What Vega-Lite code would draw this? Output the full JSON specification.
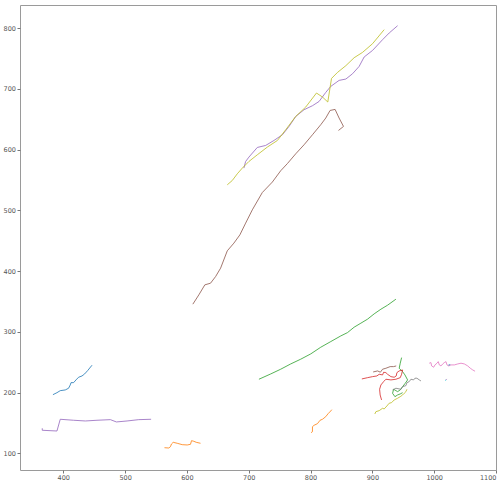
{
  "$schema": "https://vega.github.io/schema/vega-lite/v6.json",
  "width": 476,
  "height": 465,
  "autosize": {"type": "none"},
  "padding": {"left": 20, "top": 5, "right": 6, "bottom": 29},
  "background": "white",
  "config": {
    "view": {"stroke": "#9a9a9a", "strokeWidth": 1},
    "axis": {"grid": false, "domain": false, "tickSize": 3, "tickColor": "#777", "labelColor": "#555", "labelFontSize": 6.5, "labelFont": "DejaVu Sans", "labelPadding": 1.5, "title": null, "format": "d"}
  },
  "datasets": {
    "tr": [
      {"id": 1, "c": "C0", "i": 0, "x": 383.3, "y": 196.5},
      {"id": 1, "c": "C0", "i": 1, "x": 389.8, "y": 199.8},
      {"id": 1, "c": "C0", "i": 2, "x": 395.1, "y": 203.1},
      {"id": 1, "c": "C0", "i": 3, "x": 403.2, "y": 204.3},
      {"id": 1, "c": "C0", "i": 4, "x": 408.6, "y": 207.1},
      {"id": 1, "c": "C0", "i": 5, "x": 411.3, "y": 212.5},
      {"id": 1, "c": "C0", "i": 6, "x": 412.5, "y": 216.3},
      {"id": 1, "c": "C0", "i": 7, "x": 416.7, "y": 216.3},
      {"id": 1, "c": "C0", "i": 8, "x": 420.6, "y": 220.8},
      {"id": 1, "c": "C0", "i": 9, "x": 424.8, "y": 225.2},
      {"id": 1, "c": "C0", "i": 10, "x": 430.3, "y": 227.3},
      {"id": 1, "c": "C0", "i": 11, "x": 434.5, "y": 230.6},
      {"id": 1, "c": "C0", "i": 12, "x": 439.4, "y": 236.1},
      {"id": 1, "c": "C0", "i": 13, "x": 446.5, "y": 245.0},

      {"id": 2, "c": "C1", "i": 0, "x": 563.7, "y": 109.2},
      {"id": 2, "c": "C1", "i": 1, "x": 570.7, "y": 108.7},
      {"id": 2, "c": "C1", "i": 2, "x": 573.4, "y": 110.9},
      {"id": 2, "c": "C1", "i": 3, "x": 575.0, "y": 115.3},
      {"id": 2, "c": "C1", "i": 4, "x": 577.8, "y": 118.1},
      {"id": 2, "c": "C1", "i": 5, "x": 584.3, "y": 116.5},
      {"id": 2, "c": "C1", "i": 6, "x": 592.4, "y": 114.2},
      {"id": 2, "c": "C1", "i": 7, "x": 600.5, "y": 113.7},
      {"id": 2, "c": "C1", "i": 8, "x": 605.8, "y": 114.8},
      {"id": 2, "c": "C1", "i": 9, "x": 607.5, "y": 120.8},
      {"id": 2, "c": "C1", "i": 10, "x": 611.2, "y": 119.8},
      {"id": 2, "c": "C1", "i": 11, "x": 615.1, "y": 118.1},
      {"id": 2, "c": "C1", "i": 12, "x": 622.0, "y": 116.5},

      {"id": 3, "c": "C1", "i": 0, "x": 800.8, "y": 133.9},
      {"id": 3, "c": "C1", "i": 1, "x": 803.1, "y": 135.6},
      {"id": 3, "c": "C1", "i": 2, "x": 803.1, "y": 143.8},
      {"id": 3, "c": "C1", "i": 3, "x": 805.7, "y": 146.1},
      {"id": 3, "c": "C1", "i": 4, "x": 811.2, "y": 148.8},
      {"id": 3, "c": "C1", "i": 5, "x": 815.4, "y": 154.4},
      {"id": 3, "c": "C1", "i": 6, "x": 819.3, "y": 156.0},
      {"id": 3, "c": "C1", "i": 7, "x": 824.6, "y": 160.3},
      {"id": 3, "c": "C1", "i": 8, "x": 828.4, "y": 165.2},
      {"id": 3, "c": "C1", "i": 9, "x": 832.7, "y": 169.7},
      {"id": 3, "c": "C1", "i": 10, "x": 834.4, "y": 171.8},

      {"id": 4, "c": "C2", "i": 0, "x": 716.5, "y": 221.9},
      {"id": 4, "c": "C2", "i": 1, "x": 735.5, "y": 230.6},
      {"id": 4, "c": "C2", "i": 2, "x": 751.7, "y": 238.4},
      {"id": 4, "c": "C2", "i": 3, "x": 767.9, "y": 247.1},
      {"id": 4, "c": "C2", "i": 4, "x": 784.1, "y": 254.9},
      {"id": 4, "c": "C2", "i": 5, "x": 800.3, "y": 263.6},
      {"id": 4, "c": "C2", "i": 6, "x": 816.5, "y": 274.6},
      {"id": 4, "c": "C2", "i": 7, "x": 832.7, "y": 283.9},
      {"id": 4, "c": "C2", "i": 8, "x": 848.9, "y": 293.2},
      {"id": 4, "c": "C2", "i": 9, "x": 859.8, "y": 298.7},
      {"id": 4, "c": "C2", "i": 10, "x": 870.5, "y": 307.6},
      {"id": 4, "c": "C2", "i": 11, "x": 881.4, "y": 314.2},
      {"id": 4, "c": "C2", "i": 12, "x": 892.2, "y": 320.8},
      {"id": 4, "c": "C2", "i": 13, "x": 902.9, "y": 329.5},
      {"id": 4, "c": "C2", "i": 14, "x": 913.8, "y": 337.2},
      {"id": 4, "c": "C2", "i": 15, "x": 924.6, "y": 343.8},
      {"id": 4, "c": "C2", "i": 16, "x": 938.1, "y": 353.7},

      {"id": 5, "c": "C2", "i": 0, "x": 947.3, "y": 257.5},
      {"id": 5, "c": "C2", "i": 1, "x": 945.1, "y": 248.3},
      {"id": 5, "c": "C2", "i": 2, "x": 943.4, "y": 240.0},
      {"id": 5, "c": "C2", "i": 3, "x": 946.2, "y": 237.2},
      {"id": 5, "c": "C2", "i": 4, "x": 948.9, "y": 234.4},
      {"id": 5, "c": "C2", "i": 5, "x": 952.7, "y": 229.0},
      {"id": 5, "c": "C2", "i": 6, "x": 957.0, "y": 220.8},
      {"id": 5, "c": "C2", "i": 7, "x": 953.2, "y": 215.3},
      {"id": 5, "c": "C2", "i": 8, "x": 948.9, "y": 209.7},
      {"id": 5, "c": "C2", "i": 9, "x": 945.1, "y": 204.3},
      {"id": 5, "c": "C2", "i": 10, "x": 940.8, "y": 201.5},
      {"id": 5, "c": "C2", "i": 11, "x": 934.4, "y": 205.4},
      {"id": 5, "c": "C2", "i": 12, "x": 932.7, "y": 198.8},
      {"id": 5, "c": "C2", "i": 13, "x": 936.5, "y": 193.2},
      {"id": 5, "c": "C2", "i": 14, "x": 940.8, "y": 196.0},
      {"id": 5, "c": "C2", "i": 15, "x": 945.1, "y": 197.7},
      {"id": 5, "c": "C2", "i": 16, "x": 948.9, "y": 199.8},

      {"id": 6, "c": "C3", "i": 0, "x": 883.0, "y": 222.4},
      {"id": 6, "c": "C3", "i": 1, "x": 892.2, "y": 224.5},
      {"id": 6, "c": "C3", "i": 2, "x": 900.3, "y": 226.2},
      {"id": 6, "c": "C3", "i": 3, "x": 907.3, "y": 227.3},
      {"id": 6, "c": "C3", "i": 4, "x": 911.0, "y": 230.1},
      {"id": 6, "c": "C3", "i": 5, "x": 916.5, "y": 229.0},
      {"id": 6, "c": "C3", "i": 6, "x": 918.2, "y": 233.4},
      {"id": 6, "c": "C3", "i": 7, "x": 921.9, "y": 232.8},
      {"id": 6, "c": "C3", "i": 8, "x": 924.6, "y": 230.1},
      {"id": 6, "c": "C3", "i": 9, "x": 930.0, "y": 226.2},
      {"id": 6, "c": "C3", "i": 10, "x": 935.3, "y": 225.2},
      {"id": 6, "c": "C3", "i": 11, "x": 938.6, "y": 227.3},
      {"id": 6, "c": "C3", "i": 12, "x": 939.7, "y": 232.8},
      {"id": 6, "c": "C3", "i": 13, "x": 943.4, "y": 235.6},
      {"id": 6, "c": "C3", "i": 14, "x": 948.9, "y": 237.2},
      {"id": 6, "c": "C3", "i": 15, "x": 947.3, "y": 230.1},
      {"id": 6, "c": "C3", "i": 16, "x": 945.1, "y": 224.5},
      {"id": 6, "c": "C3", "i": 17, "x": 938.1, "y": 221.9},
      {"id": 6, "c": "C3", "i": 18, "x": 930.0, "y": 220.8},
      {"id": 6, "c": "C3", "i": 19, "x": 921.9, "y": 221.9},
      {"id": 6, "c": "C3", "i": 20, "x": 918.2, "y": 218.0},
      {"id": 6, "c": "C3", "i": 21, "x": 913.8, "y": 212.5},
      {"id": 6, "c": "C3", "i": 22, "x": 911.7, "y": 205.4},
      {"id": 6, "c": "C3", "i": 23, "x": 912.6, "y": 196.0},
      {"id": 6, "c": "C3", "i": 24, "x": 914.9, "y": 187.8},

      {"id": 7, "c": "C4", "i": 0, "x": 366.0, "y": 141.2},
      {"id": 7, "c": "C4", "i": 1, "x": 366.0, "y": 137.9},
      {"id": 7, "c": "C4", "i": 2, "x": 389.8, "y": 136.7},
      {"id": 7, "c": "C4", "i": 3, "x": 395.1, "y": 156.0},
      {"id": 7, "c": "C4", "i": 4, "x": 416.7, "y": 154.4},
      {"id": 7, "c": "C4", "i": 5, "x": 435.7, "y": 153.2},
      {"id": 7, "c": "C4", "i": 6, "x": 454.6, "y": 154.4},
      {"id": 7, "c": "C4", "i": 7, "x": 476.2, "y": 155.4},
      {"id": 7, "c": "C4", "i": 8, "x": 485.9, "y": 151.6},
      {"id": 7, "c": "C4", "i": 9, "x": 503.2, "y": 153.2},
      {"id": 7, "c": "C4", "i": 10, "x": 522.0, "y": 155.4},
      {"id": 7, "c": "C4", "i": 11, "x": 542.1, "y": 156.0},

      {"id": 8, "c": "C4", "i": 0, "x": 692.2, "y": 569.5},
      {"id": 8, "c": "C4", "i": 1, "x": 695.0, "y": 580.4},
      {"id": 8, "c": "C4", "i": 2, "x": 700.3, "y": 587.6},
      {"id": 8, "c": "C4", "i": 3, "x": 713.9, "y": 603.5},
      {"id": 8, "c": "C4", "i": 4, "x": 727.4, "y": 606.8},
      {"id": 8, "c": "C4", "i": 5, "x": 740.8, "y": 615.0},
      {"id": 8, "c": "C4", "i": 6, "x": 754.5, "y": 624.4},
      {"id": 8, "c": "C4", "i": 7, "x": 765.2, "y": 638.1},
      {"id": 8, "c": "C4", "i": 8, "x": 776.0, "y": 654.5},
      {"id": 8, "c": "C4", "i": 9, "x": 789.5, "y": 665.6},
      {"id": 8, "c": "C4", "i": 10, "x": 803.1, "y": 672.2},
      {"id": 8, "c": "C4", "i": 11, "x": 813.8, "y": 679.2},
      {"id": 8, "c": "C4", "i": 12, "x": 824.6, "y": 694.1},
      {"id": 8, "c": "C4", "i": 13, "x": 832.7, "y": 704.0},
      {"id": 8, "c": "C4", "i": 14, "x": 846.2, "y": 713.9},
      {"id": 8, "c": "C4", "i": 15, "x": 857.1, "y": 716.1},
      {"id": 8, "c": "C4", "i": 16, "x": 867.9, "y": 724.8},
      {"id": 8, "c": "C4", "i": 17, "x": 878.6, "y": 736.9},
      {"id": 8, "c": "C4", "i": 18, "x": 886.7, "y": 752.4},
      {"id": 8, "c": "C4", "i": 19, "x": 900.3, "y": 763.2},
      {"id": 8, "c": "C4", "i": 20, "x": 916.5, "y": 780.9},
      {"id": 8, "c": "C4", "i": 21, "x": 927.2, "y": 791.9},
      {"id": 8, "c": "C4", "i": 22, "x": 940.8, "y": 803.9},

      {"id": 9, "c": "C5", "i": 0, "x": 609.6, "y": 345.5},
      {"id": 9, "c": "C5", "i": 1, "x": 619.3, "y": 360.8},
      {"id": 9, "c": "C5", "i": 2, "x": 629.0, "y": 377.3},
      {"id": 9, "c": "C5", "i": 3, "x": 638.2, "y": 380.0},
      {"id": 9, "c": "C5", "i": 4, "x": 646.4, "y": 390.9},
      {"id": 9, "c": "C5", "i": 5, "x": 654.5, "y": 404.8},
      {"id": 9, "c": "C5", "i": 6, "x": 665.3, "y": 433.3},
      {"id": 9, "c": "C5", "i": 7, "x": 676.0, "y": 446.0},
      {"id": 9, "c": "C5", "i": 8, "x": 685.7, "y": 459.6},
      {"id": 9, "c": "C5", "i": 9, "x": 695.0, "y": 478.9},
      {"id": 9, "c": "C5", "i": 10, "x": 705.8, "y": 500.8},
      {"id": 9, "c": "C5", "i": 11, "x": 722.0, "y": 529.3},
      {"id": 9, "c": "C5", "i": 12, "x": 738.2, "y": 546.5},
      {"id": 9, "c": "C5", "i": 13, "x": 751.7, "y": 565.1},
      {"id": 9, "c": "C5", "i": 14, "x": 762.6, "y": 577.0},
      {"id": 9, "c": "C5", "i": 15, "x": 776.0, "y": 593.0},
      {"id": 9, "c": "C5", "i": 16, "x": 789.5, "y": 607.9},
      {"id": 9, "c": "C5", "i": 17, "x": 803.1, "y": 624.4},
      {"id": 9, "c": "C5", "i": 18, "x": 816.5, "y": 640.9},
      {"id": 9, "c": "C5", "i": 19, "x": 824.6, "y": 651.9},
      {"id": 9, "c": "C5", "i": 20, "x": 831.6, "y": 664.4},
      {"id": 9, "c": "C5", "i": 21, "x": 839.7, "y": 666.1},
      {"id": 9, "c": "C5", "i": 22, "x": 846.2, "y": 651.9},
      {"id": 9, "c": "C5", "i": 23, "x": 853.3, "y": 638.1},
      {"id": 9, "c": "C5", "i": 24, "x": 845.2, "y": 631.5},

      {"id": 10, "c": "C5", "i": 0, "x": 901.3, "y": 233.9},
      {"id": 10, "c": "C5", "i": 1, "x": 908.4, "y": 235.6},
      {"id": 10, "c": "C5", "i": 2, "x": 913.0, "y": 233.5},
      {"id": 10, "c": "C5", "i": 3, "x": 916.5, "y": 238.4},
      {"id": 10, "c": "C5", "i": 4, "x": 921.9, "y": 240.0},
      {"id": 10, "c": "C5", "i": 5, "x": 928.8, "y": 242.7},
      {"id": 10, "c": "C5", "i": 6, "x": 934.3, "y": 242.7},
      {"id": 10, "c": "C5", "i": 7, "x": 938.6, "y": 243.8},

      {"id": 11, "c": "C6", "i": 0, "x": 992.0, "y": 248.3},
      {"id": 11, "c": "C6", "i": 1, "x": 994.8, "y": 249.3},
      {"id": 11, "c": "C6", "i": 2, "x": 995.9, "y": 243.8},
      {"id": 11, "c": "C6", "i": 3, "x": 999.2, "y": 241.7},
      {"id": 11, "c": "C6", "i": 4, "x": 1001.3, "y": 245.5},
      {"id": 11, "c": "C6", "i": 5, "x": 1004.5, "y": 248.3},
      {"id": 11, "c": "C6", "i": 6, "x": 1006.6, "y": 250.9},
      {"id": 11, "c": "C6", "i": 7, "x": 1008.3, "y": 245.5},
      {"id": 11, "c": "C6", "i": 8, "x": 1011.0, "y": 243.8},
      {"id": 11, "c": "C6", "i": 9, "x": 1013.8, "y": 247.1},
      {"id": 11, "c": "C6", "i": 10, "x": 1016.4, "y": 249.3},
      {"id": 11, "c": "C6", "i": 11, "x": 1019.1, "y": 250.9},
      {"id": 11, "c": "C6", "i": 12, "x": 1020.7, "y": 245.5},
      {"id": 11, "c": "C6", "i": 13, "x": 1023.5, "y": 243.8},
      {"id": 11, "c": "C6", "i": 14, "x": 1027.2, "y": 245.5},
      {"id": 11, "c": "C6", "i": 15, "x": 1032.6, "y": 245.5},
      {"id": 11, "c": "C6", "i": 16, "x": 1038.1, "y": 247.1},
      {"id": 11, "c": "C6", "i": 17, "x": 1043.4, "y": 248.3},
      {"id": 11, "c": "C6", "i": 18, "x": 1048.8, "y": 247.1},
      {"id": 11, "c": "C6", "i": 19, "x": 1054.3, "y": 243.8},
      {"id": 11, "c": "C6", "i": 20, "x": 1058.5, "y": 240.0},
      {"id": 11, "c": "C6", "i": 21, "x": 1062.4, "y": 237.2},
      {"id": 11, "c": "C6", "i": 22, "x": 1066.1, "y": 235.1},

      {"id": 12, "c": "C7", "i": 0, "x": 932.7, "y": 204.3},
      {"id": 12, "c": "C7", "i": 1, "x": 938.1, "y": 207.1},
      {"id": 12, "c": "C7", "i": 2, "x": 946.2, "y": 205.4},
      {"id": 12, "c": "C7", "i": 3, "x": 948.9, "y": 209.7},
      {"id": 12, "c": "C7", "i": 4, "x": 954.3, "y": 211.4},
      {"id": 12, "c": "C7", "i": 5, "x": 955.9, "y": 216.3},
      {"id": 12, "c": "C7", "i": 6, "x": 959.6, "y": 218.0},
      {"id": 12, "c": "C7", "i": 7, "x": 962.4, "y": 221.9},
      {"id": 12, "c": "C7", "i": 8, "x": 966.7, "y": 220.8},
      {"id": 12, "c": "C7", "i": 9, "x": 968.9, "y": 223.6},
      {"id": 12, "c": "C7", "i": 10, "x": 972.1, "y": 223.6},
      {"id": 12, "c": "C7", "i": 11, "x": 975.9, "y": 220.8},
      {"id": 12, "c": "C7", "i": 12, "x": 978.6, "y": 219.1},

      {"id": 13, "c": "C8", "i": 0, "x": 665.3, "y": 542.0},
      {"id": 13, "c": "C8", "i": 1, "x": 673.4, "y": 549.1},
      {"id": 13, "c": "C8", "i": 2, "x": 681.5, "y": 560.1},
      {"id": 13, "c": "C8", "i": 3, "x": 689.6, "y": 569.5},
      {"id": 13, "c": "C8", "i": 4, "x": 700.3, "y": 580.4},
      {"id": 13, "c": "C8", "i": 5, "x": 713.9, "y": 591.4},
      {"id": 13, "c": "C8", "i": 6, "x": 730.1, "y": 604.1},
      {"id": 13, "c": "C8", "i": 7, "x": 746.4, "y": 615.0},
      {"id": 13, "c": "C8", "i": 8, "x": 759.8, "y": 632.6},
      {"id": 13, "c": "C8", "i": 9, "x": 776.0, "y": 654.5},
      {"id": 13, "c": "C8", "i": 10, "x": 792.2, "y": 670.0},
      {"id": 13, "c": "C8", "i": 11, "x": 809.6, "y": 693.1},
      {"id": 13, "c": "C8", "i": 12, "x": 819.3, "y": 686.5},
      {"id": 13, "c": "C8", "i": 13, "x": 827.9, "y": 678.3},
      {"id": 13, "c": "C8", "i": 14, "x": 833.9, "y": 717.1},
      {"id": 13, "c": "C8", "i": 15, "x": 843.6, "y": 727.0},
      {"id": 13, "c": "C8", "i": 16, "x": 857.1, "y": 738.1},
      {"id": 13, "c": "C8", "i": 17, "x": 870.5, "y": 751.2},
      {"id": 13, "c": "C8", "i": 18, "x": 884.1, "y": 760.0},
      {"id": 13, "c": "C8", "i": 19, "x": 900.3, "y": 774.3},
      {"id": 13, "c": "C8", "i": 20, "x": 919.1, "y": 797.4},

      {"id": 14, "c": "C8", "i": 0, "x": 904.0, "y": 164.7},
      {"id": 14, "c": "C8", "i": 1, "x": 905.7, "y": 168.5},
      {"id": 14, "c": "C8", "i": 2, "x": 911.0, "y": 170.2},
      {"id": 14, "c": "C8", "i": 3, "x": 916.5, "y": 174.1},
      {"id": 14, "c": "C8", "i": 4, "x": 919.1, "y": 173.0},
      {"id": 14, "c": "C8", "i": 5, "x": 923.5, "y": 177.9},
      {"id": 14, "c": "C8", "i": 6, "x": 927.2, "y": 182.4},
      {"id": 14, "c": "C8", "i": 7, "x": 931.1, "y": 183.4},
      {"id": 14, "c": "C8", "i": 8, "x": 935.3, "y": 187.8},
      {"id": 14, "c": "C8", "i": 9, "x": 940.8, "y": 190.6},
      {"id": 14, "c": "C8", "i": 10, "x": 945.1, "y": 193.2},
      {"id": 14, "c": "C8", "i": 11, "x": 948.9, "y": 196.0},
      {"id": 14, "c": "C8", "i": 12, "x": 951.6, "y": 198.8},
      {"id": 14, "c": "C8", "i": 13, "x": 954.3, "y": 201.5},
      {"id": 14, "c": "C8", "i": 14, "x": 955.9, "y": 205.4},

      {"id": 15, "c": "C9", "i": 0, "x": 1018.3, "y": 219.6},
      {"id": 15, "c": "C9", "i": 1, "x": 1019.6, "y": 221.8},
      {"id": 16, "c": "C0", "i": 0, "x": 1023.0, "y": 245.2},
      {"id": 16, "c": "C0", "i": 1, "x": 1026.0, "y": 246.0},
      {"id": 17, "c": "C6", "i": 0, "x": 1019.3, "y": 221.0},
      {"id": 17, "c": "C6", "i": 1, "x": 1020.4, "y": 222.4}
    ]
  },
  "data": {"name": "tr"},
  "mark": {"type": "line", "strokeWidth": 1, "opacity": 0.8, "clip": true},
  "encoding": {
    "x": {"field": "x", "type": "quantitative", "scale": {"domain": [330, 1100], "nice": false, "zero": false}, "axis": {"values": [400, 500, 600, 700, 800, 900, 1000, 1100]}},
    "y": {"field": "y", "type": "quantitative", "scale": {"domain": [72.5, 838], "nice": false, "zero": false}, "axis": {"values": [100, 200, 300, 400, 500, 600, 700, 800]}},
    "detail": {"field": "id", "type": "nominal"},
    "order": {"field": "i", "type": "quantitative"},
    "color": {"field": "c", "type": "nominal", "legend": null, "scale": {"domain": ["C0", "C1", "C2", "C3", "C4", "C5", "C6", "C7", "C8", "C9"], "range": ["#1f77b4", "#ff7f0e", "#2ca02c", "#d62728", "#9467bd", "#8c564b", "#e377c2", "#7f7f7f", "#bcbd22", "#17becf"]}}
  }
}
